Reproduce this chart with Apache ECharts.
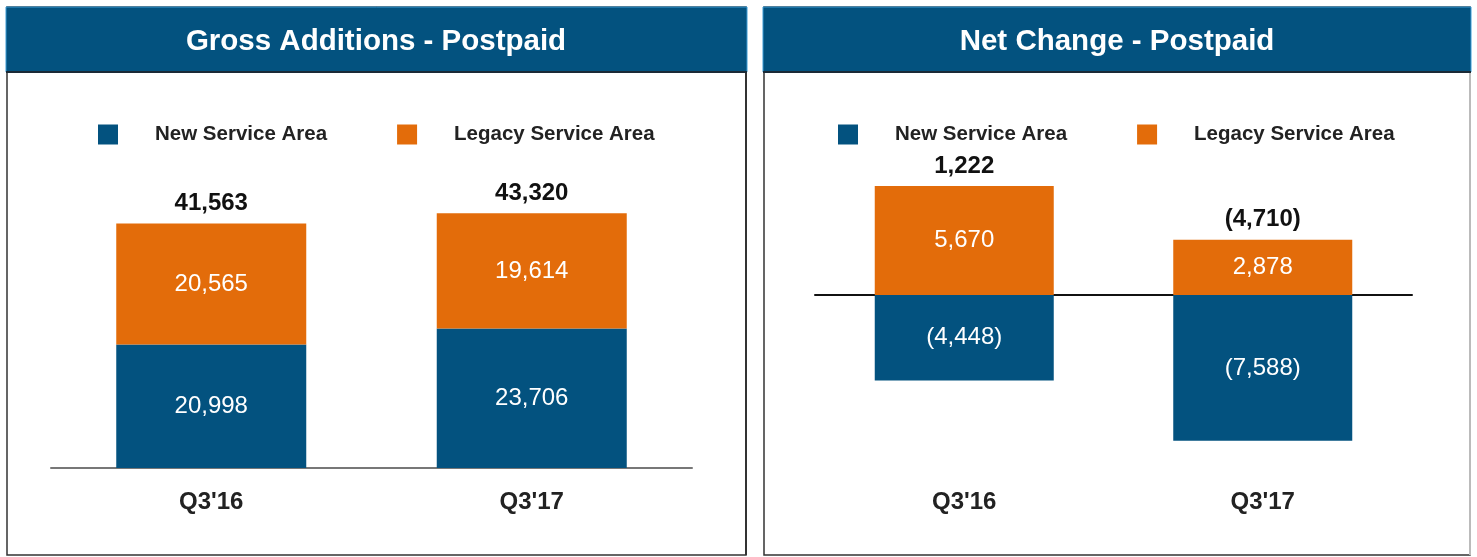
<!DOCTYPE html>
<html>
<head>
<meta charset="utf-8">
<script src="https://cdn.jsdelivr.net/npm/echarts@6/dist/echarts.min.js"></script>
<style>
  html, body { margin: 0; padding: 0; background: #fff; }
  #main { width: 1477px; height: 557px; }
</style>
</head>
<body>
<div id="main"></div>
<script>
// data
var cats = ["Q3'16", "Q3'17"];
var seriesNames = ['New Service Area', 'Legacy Service Area'];
var grossNew = [20998, 23706];
var grossLegacy = [20565, 19614];
var grossTotal = [41563, 43320];
var netNew = [-4448, -7588];
var netLegacy = [5670, 2878];
var netTotal = [1222, -4710];

var BLUE = '#03527f';
var ORANGE = '#e36c0a';
var FONT = 'Liberation Sans, Arial, sans-serif';

// 1,234 style, negatives in brackets
function fmt(v) {
  var s = Math.abs(v).toLocaleString('en-US');
  return v < 0 ? '(' + s + ')' : s;
}

function panel(x, w, rightStroke) {
  return [
    { type: 'rect', z: -10, shape: { x: x, y: 7, width: w, height: 548 },
      style: { fill: '#fff', stroke: '#333', lineWidth: 1.5 } },
    { type: 'line', z: -9, shape: { x1: x + w, y1: 72, x2: x + w, y2: 555 },
      style: { stroke: rightStroke, lineWidth: 2 } },
    { type: 'rect', z: -8, shape: { x: x - 1, y: 7, width: w + 2, height: 65 },
      style: { fill: BLUE, stroke: '#3a9bd5', lineWidth: 1 } },
    { type: 'line', z: -7, shape: { x1: x - 1, y1: 72, x2: x + w + 1, y2: 72 },
      style: { stroke: '#1b2a36', lineWidth: 2 } }
  ];
}

function legend(left) {
  return {
    left: left, top: 124, padding: 0,
    data: seriesNames,
    icon: 'rect', itemWidth: 20, itemHeight: 20, itemGap: 70,
    selectedMode: false,
    textStyle: { fontFamily: FONT, fontSize: 20.5, fontWeight: 'bold', color: '#222', padding: [0, 0, 0, 32] }
  };
}

var insideLabel = {
  show: true, position: 'inside', color: '#fff',
  fontFamily: FONT, fontSize: 24, formatter: function (p) { return fmt(p.value); }
};

function totalLabel(totals) {
  return {
    show: true, position: 'top', distance: 8, color: '#111',
    fontFamily: FONT, fontSize: 24, fontWeight: 'bold',
    formatter: function (p) { return fmt(totals[p.dataIndex]); }
  };
}

var catLabel = { fontFamily: FONT, fontSize: 24, fontWeight: 'bold', color: '#222', margin: 22 };

var myChart = echarts.init(document.getElementById('main'));
var option = {
  animation: false,
  color: [BLUE, ORANGE],
  graphic: panel(7, 739, '#333').concat(panel(764, 706, '#bbb')),
  title: [
    { text: 'Gross Additions - Postpaid', left: 376, top: 27, padding: 0, textAlign: 'center',
      textStyle: { fontFamily: FONT, fontSize: 29.5, fontWeight: 'bold', color: '#fff' } },
    { text: 'Net Change - Postpaid', left: 1117, top: 27, padding: 0, textAlign: 'center',
      textStyle: { fontFamily: FONT, fontSize: 29.5, fontWeight: 'bold', color: '#fff' } }
  ],
  legend: [legend(98), legend(838)],
  grid: [
    { left: 51, right: 785, top: 174, bottom: 89 },
    { left: 815, right: 65, top: 122, bottom: 89 }
  ],
  xAxis: [
    { type: 'category', gridIndex: 0, data: cats,
      axisLine: { lineStyle: { color: '#777', width: 2 } }, axisTick: { show: false },
      axisLabel: catLabel },
    { type: 'category', gridIndex: 1, data: cats,
      axisLine: { onZero: true, lineStyle: { color: '#111', width: 2 } }, axisTick: { show: false },
      axisLabel: { show: false } },
    { type: 'category', gridIndex: 1, data: cats, position: 'bottom',
      axisLine: { show: false, onZero: false }, axisTick: { show: false },
      axisLabel: catLabel }
  ],
  yAxis: [
    { type: 'value', gridIndex: 0, min: 0, max: 50000, show: false, splitLine: { show: false } },
    { type: 'value', gridIndex: 1, min: -9000, max: 9000, show: false, splitLine: { show: false } }
  ],
  series: [
    { name: seriesNames[0], type: 'bar', xAxisIndex: 0, yAxisIndex: 0, stack: 'gross',
      barWidth: 190, data: grossNew, label: insideLabel },
    { name: seriesNames[1], type: 'bar', xAxisIndex: 0, yAxisIndex: 0, stack: 'gross',
      barWidth: 190, data: grossLegacy, label: insideLabel },
    { name: 'gross total', type: 'scatter', xAxisIndex: 0, yAxisIndex: 0,
      symbolSize: 0, itemStyle: { opacity: 1 }, data: grossTotal, label: totalLabel(grossTotal), z: 5 },
    { name: seriesNames[0], type: 'bar', xAxisIndex: 1, yAxisIndex: 1, stack: 'net',
      barWidth: 179, data: netNew, label: insideLabel },
    { name: seriesNames[1], type: 'bar', xAxisIndex: 1, yAxisIndex: 1, stack: 'net',
      barWidth: 179, data: netLegacy, label: insideLabel },
    { name: 'net total', type: 'scatter', xAxisIndex: 1, yAxisIndex: 1,
      symbolSize: 0, itemStyle: { opacity: 1 }, data: netLegacy, label: totalLabel(netTotal), z: 5 }
  ]
};
myChart.setOption(option);
</script>
</body>
</html>
